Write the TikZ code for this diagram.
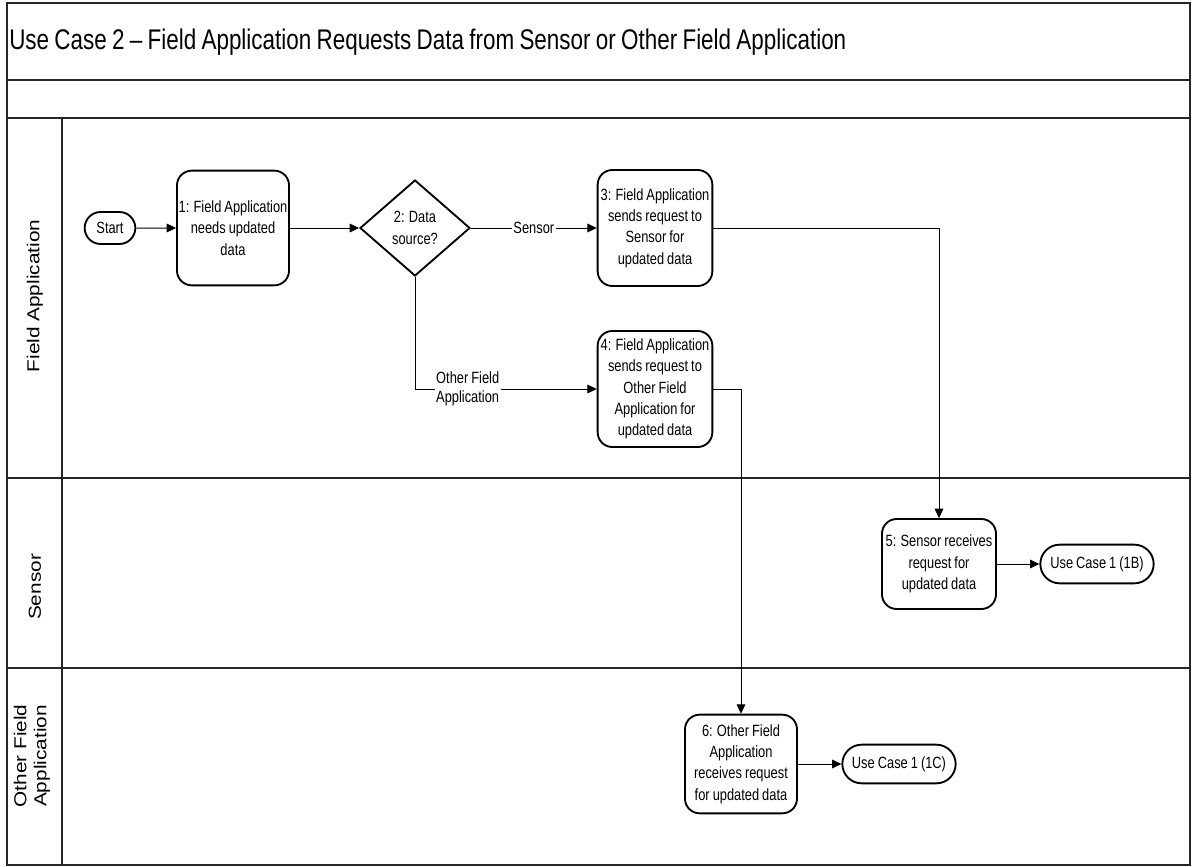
\documentclass[tikz,border=0pt]{standalone}
\usepackage{fontspec}
\setmainfont{Liberation Sans}
\newfontfamily\narrowfont{Liberation Sans}[FakeStretch=0.79, WordSpace=0.85]
\newfontfamily\lanefont{Liberation Sans}[FakeStretch=1.2]
\usetikzlibrary{arrows.meta,shapes.geometric,shapes.misc}

\tikzset{
  frame/.style={draw=black!85, line width=1.1pt},
  stepbox/.style={draw, line width=1.4pt, rounded corners=11pt, align=center,
    inner sep=1pt, font=\narrowfont\fontsize{12.2}{16}\selectfont},
  terminal/.style={draw, line width=1.4pt, rounded rectangle, align=center,
    inner sep=2pt, font=\narrowfont\fontsize{12.2}{16}\selectfont},
  decision/.style={draw, line width=1.4pt, diamond, aspect=1.15, inner sep=0pt,
    align=center, minimum width=82.5pt, minimum height=72pt,
    font=\narrowfont\fontsize{12.2}{16}\selectfont},
  flow/.style={draw, line width=0.75pt, -{Triangle[length=7pt,width=6.5pt]}},
  flowlabel/.style={fill=white, inner sep=1pt, font=\narrowfont\fontsize{12.2}{14}\selectfont},
  lanelabel/.style={rotate=90, align=center, font=\lanefont\fontsize{13}{15}\selectfont},
}

\begin{document}
\begin{tikzpicture}[x=0.75pt, y=-0.75pt]
\useasboundingbox (0,0) rectangle (1193,867);

% pool frame, header rows and lanes
\draw[frame] (7,3) rectangle (1190,865);
\draw[frame] (7,80) -- (1190,80);
\draw[frame] (7,118) -- (1190,118);
\draw[frame] (7,478) -- (1190,478);
\draw[frame] (7,668) -- (1190,668);
\draw[frame] (62,118) -- (62,865);

\node[anchor=west, inner sep=0pt, font=\narrowfont\fontsize{21.3}{24}\selectfont] (title) at (9,42)
  {Use Case 2 – Field Application Requests Data from Sensor or Other Field Application};

% lane names
\node[lanelabel] (laneFA) at (35,296) {Field Application};
\node[lanelabel] (laneS) at (35,587) {Sensor};
\node[lanelabel] (laneOFA) at (32,756) {Other Field\\Application};

% process steps
\node[terminal, minimum width=42pt, minimum height=24pt] (start) at (110,228) {Start};
\node[stepbox, minimum width=84pt, minimum height=86pt] (b1) at (233,228)
  {1: Field Application\\needs updated\\data};
\node[decision] (d2) at (415,228) {2: Data\\source?};
\node[stepbox, minimum width=86pt, minimum height=87pt] (b3) at (655,228)
  {3: Field Application\\sends request to\\Sensor for\\updated data};
\node[stepbox, minimum width=86pt, minimum height=87pt] (b4) at (655,389)
  {4: Field Application\\sends request to\\Other Field\\Application for\\updated data};
\node[stepbox, minimum width=85.5pt, minimum height=67.5pt] (b5) at (939,564)
  {5: Sensor receives\\request for\\updated data};
\node[terminal, minimum width=89pt, minimum height=29pt] (uc1b) at (1097,564) {Use Case 1 (1B)};
\node[stepbox, minimum width=84pt, minimum height=74pt] (b6) at (741,764)
  {6: Other Field\\Application\\receives request\\for updated data};
\node[terminal, minimum width=89pt, minimum height=29pt] (uc1c) at (899,764) {Use Case 1 (1C)};

% sequence flows
\draw[flow] (start) -- (b1);
\draw[flow] (b1) -- (d2);
\draw[flow] (d2) -- node[flowlabel] {Sensor} (b3);
\draw[flow] (d2.south) |- node[flowlabel, pos=0.645, align=left] {Other Field\\Application} (b4);
\draw[flow] (b3) -| (b5);
\draw[flow] (b4) -| (b6);
\draw[flow] (b5) -- (uc1b);
\draw[flow] (b6) -- (uc1c);
\end{tikzpicture}
\end{document}
